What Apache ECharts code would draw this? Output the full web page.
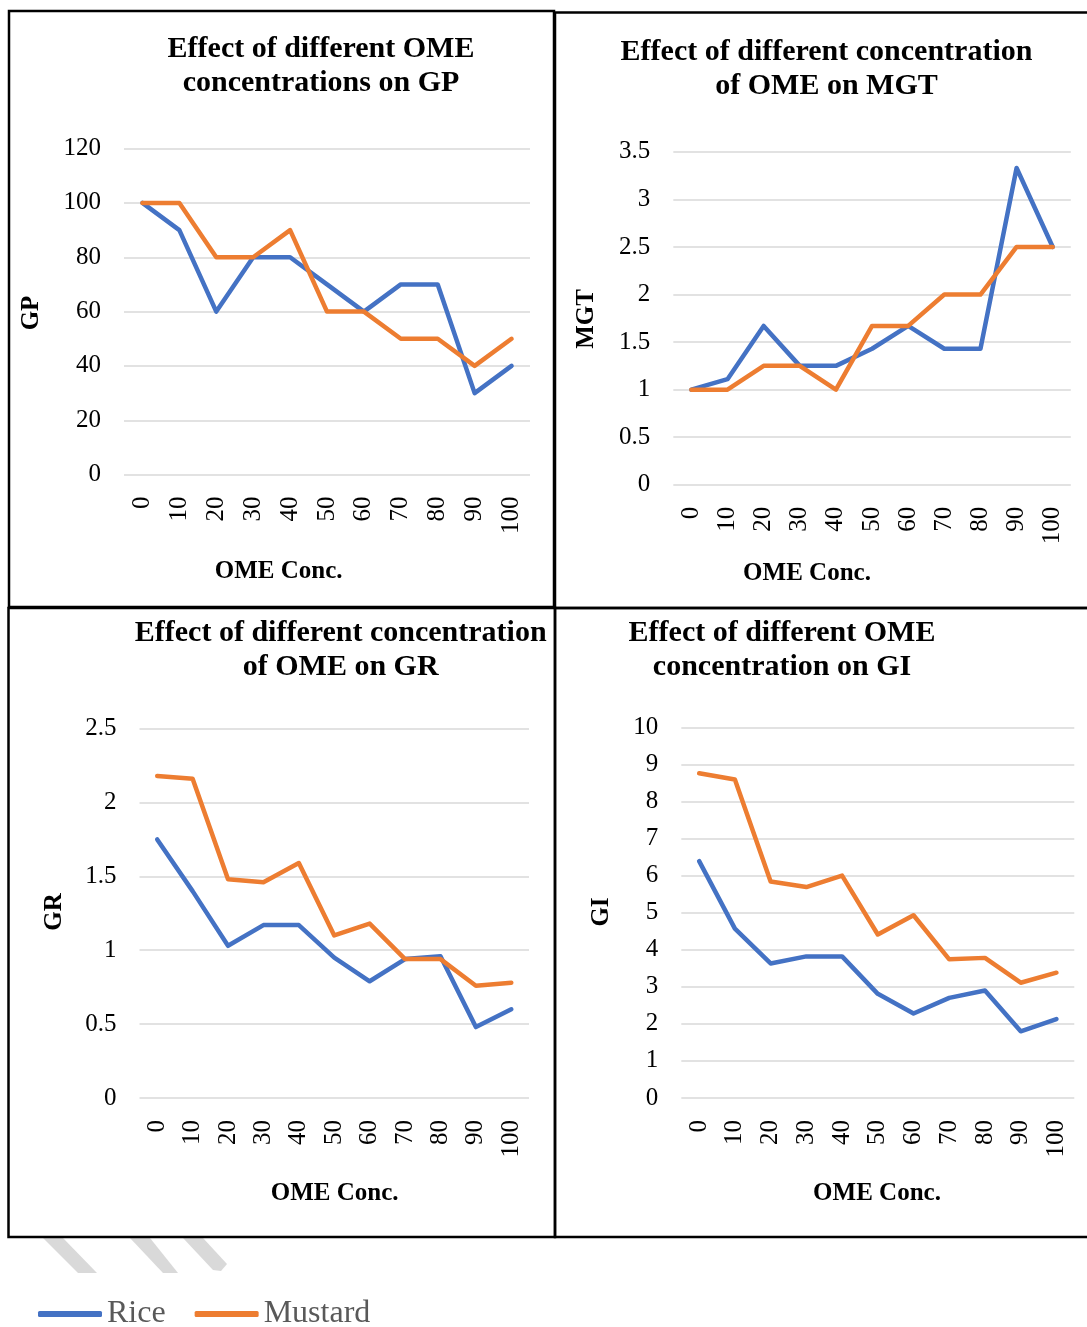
<!DOCTYPE html>
<html>
<head>
<meta charset="utf-8">
<script src="https://cdn.jsdelivr.net/npm/echarts@6/dist/echarts.min.js"></script>
<style>
html,body{margin:0;padding:0;background:#fff;}
#chart{width:1087px;height:1327px;}
</style>
</head>
<body>
<div id="chart"></div>
<script>
const categories = ['0','10','20','30','40','50','60','70','80','90','100'];
const gpRice = [100,90,60,80,80,70,60,70,70,30,40];
const gpMustard = [100,100,80,80,90,60,60,50,50,40,50];
const mgtRice = [1,1.11,1.67,1.25,1.25,1.43,1.67,1.43,1.43,3.33,2.5];
const mgtMustard = [1,1,1.25,1.25,1,1.67,1.67,2,2,2.5,2.5];
const grRice = [1.75,1.40,1.03,1.17,1.17,0.95,0.79,0.94,0.96,0.48,0.60];
const grMustard = [2.18,2.16,1.48,1.46,1.59,1.10,1.18,0.94,0.94,0.76,0.78];
const giRice = [6.39,4.57,3.63,3.82,3.82,2.81,2.28,2.70,2.90,1.80,2.13];
const giMustard = [8.76,8.59,5.84,5.69,6.00,4.41,4.93,3.74,3.78,3.11,3.38];
const yMax = [120, 3.5, 2.5, 10];
const yInterval = [20, 0.5, 0.5, 1];
const titles = ['Effect of different OME\nconcentrations on GP','Effect of different concentration\nof OME on MGT','Effect of different concentration\nof OME on GR','Effect of different OME\nconcentration on GI'];
const yNames = ['GP','MGT','GR','GI'];
const xName = 'OME Conc.';
const seriesNames = ['Rice','Mustard'];

const FONT = '"Liberation Serif","Times New Roman",serif';
const BLUE = '#4472C4', ORANGE = '#ED7D31';

const grids = [
  {left:124, top:148.6, width:406, height:326},
  {left:673.3, top:151.8, width:397.5, height:333},
  {left:139.5, top:728.6, width:389.5, height:369.4},
  {left:681.3, top:727.3, width:393, height:370.7}
];
const titlePos = [[321,66],[826.5,69],[340.7,650],[782,650]];
const yNamePos = [[32,313],[587,319],[55,912],[601.8,912]];
const xNamePos = [[278.6,572],[807,574],[334.6,1194],[877,1194]];
const data = [[gpRice,gpMustard],[mgtRice,mgtMustard],[grRice,grMustard],[giRice,giMustard]];

const xAxes = grids.map((g,i)=>({
  type:'category', gridIndex:i, data:categories, boundaryGap:true,
  axisLine:{show:false}, axisTick:{show:false},
  axisLabel:{rotate:90, margin:22, fontFamily:FONT, fontSize:25, color:'#000'}
}));
const yAxes = grids.map((g,i)=>({
  type:'value', gridIndex:i, min:0, max:yMax[i], interval:yInterval[i],
  axisLine:{show:false}, axisTick:{show:false},
  splitLine:{lineStyle:{color:'#d9d9d9', width:1.5}},
  axisLabel:{margin:23, fontFamily:FONT, fontSize:25, color:'#000', padding:[2,0,0,0]}
}));
const series = [];
data.forEach((pair,i)=>{
  pair.forEach((arr,k)=>{
    series.push({
      name:seriesNames[k], type:'line', xAxisIndex:i, yAxisIndex:i,
      data:arr, showSymbol:false, symbol:'none', smooth:false,
      lineStyle:{color:k===0?BLUE:ORANGE, width:4.5, cap:'round', join:'round'},
      itemStyle:{color:k===0?BLUE:ORANGE},
      emphasis:{disabled:true}, animation:false
    });
  });
});

const graphic = [];
titles.forEach((t,i)=>{
  graphic.push({type:'text', style:{text:t, x:titlePos[i][0], y:titlePos[i][1], textAlign:'center', textVerticalAlign:'middle', font:'bold 30px '+FONT, lineHeight:34, fill:'#000'}});
  graphic.push({type:'text', x:yNamePos[i][0], y:yNamePos[i][1], rotation:Math.PI/2, style:{text:yNames[i], x:0, y:0, textAlign:'center', textVerticalAlign:'middle', font:'bold 25px '+FONT, fill:'#000'}});
  graphic.push({type:'text', style:{text:xName, x:xNamePos[i][0], y:xNamePos[i][1], textAlign:'center', textVerticalAlign:'middle', font:'bold 25px '+FONT, fill:'#000'}});
});
// panel borders
[[9,11,545,596],[555,12.5,545,595.5],[8.5,608,546.5,629],[555,608,545,629]].forEach(r=>{
  graphic.push({type:'rect', shape:{x:r[0],y:r[1],width:r[2],height:r[3]}, style:{fill:null, stroke:'#000', lineWidth:2.5}, z:10});
});
// decorative grey stripes below the panels
[[[43,1238],[63,1238],[97,1273],[78,1273]],
 [[130,1238],[150,1238],[178,1273],[163,1273]],
 [[183,1238],[203,1238],[227,1264],[221,1271],[213,1270]]].forEach(p=>{
  graphic.push({type:'polygon', shape:{points:p}, style:{fill:'#d9d9d9'}, z:1});
});

const chart = echarts.init(document.getElementById('chart'));
chart.setOption({
  backgroundColor:'#fff',
  animation:false,
  textStyle:{fontFamily:FONT},
  grid:grids.map(g=>Object.assign({containLabel:false},g)),
  xAxis:xAxes, yAxis:yAxes, series:series,
  legend:{data:seriesNames, left:38, top:1298, padding:0, icon:'roundRect', itemWidth:64, itemHeight:6, itemGap:29,
    textStyle:{fontFamily:FONT, fontSize:32, color:'#595959', padding:[3,0,0,0]}},
  graphic:graphic
});
</script>
</body>
</html>
